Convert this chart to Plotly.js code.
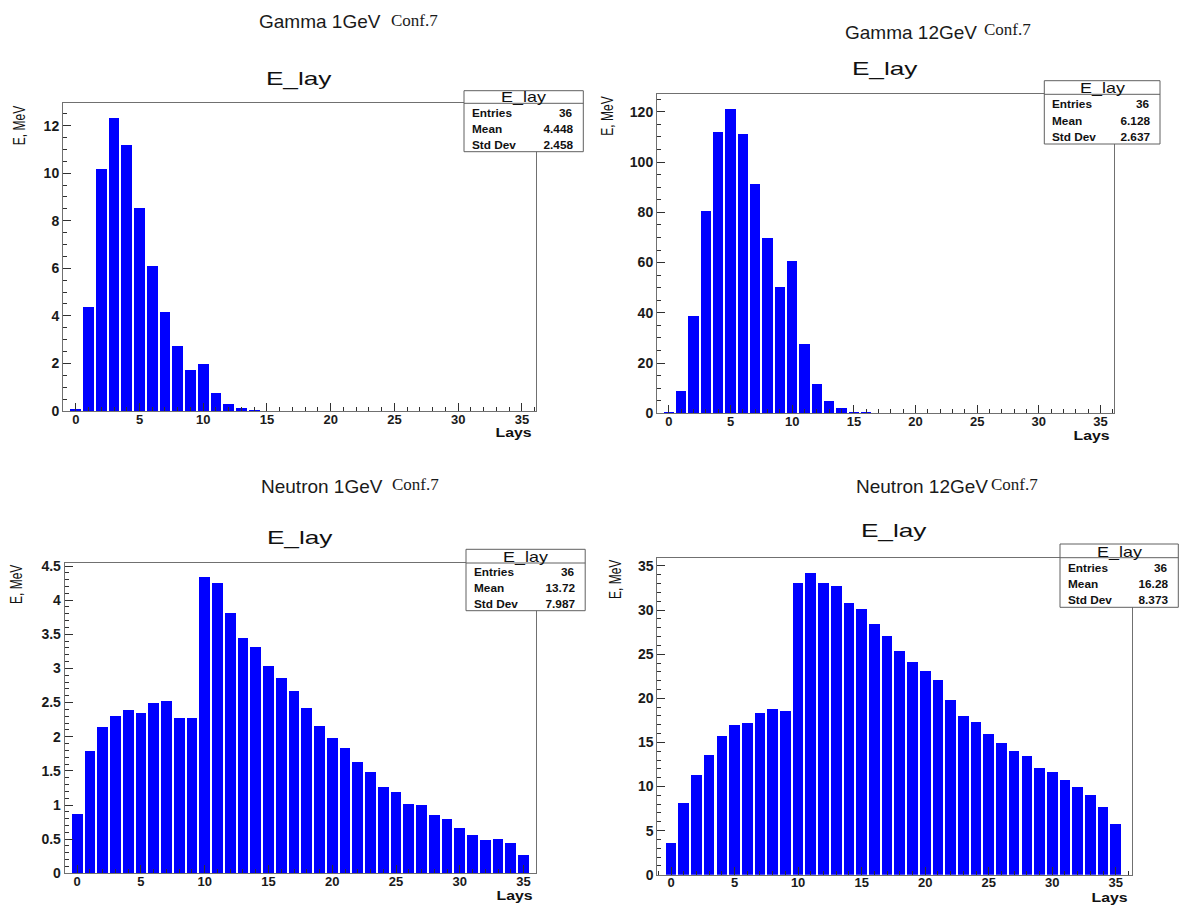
<!DOCTYPE html>
<html>
<head>
<meta charset="utf-8">
<script src="https://cdn.plot.ly/plotly-3.0.1.min.js"></script>
<style>
html,body{margin:0;padding:0;background:#fff;}
#chart{width:1180px;height:905px;}
</style>
</head>
<body>
<div id="chart"></div>
<script>
// ---------------- data ----------------
const layers = [0,1,2,3,4,5,6,7,8,9,10,11,12,13,14,15,16,17,18,19,20,21,22,23,24,25,26,27,28,29,30,31,32,33,34,35];

const gamma1GeV = [0.07,4.39,10.18,12.33,11.18,8.52,6.11,4.17,2.75,1.73,1.96,0.76,0.28,0.13,0.06,0.02,0,0,0,0,0,0,0,0,0,0,0,0,0,0,0,0,0,0,0,0];
const gamma12GeV = [0.4,9.0,38.8,80.4,111.8,121.2,111.1,91.2,69.6,50.1,60.7,27.4,11.6,4.8,2.1,0.7,0.4,0,0,0,0,0,0,0,0,0,0,0,0,0,0,0,0,0,0,0];
const neutron1GeV = [0.87,1.79,2.14,2.30,2.39,2.35,2.50,2.53,2.27,2.27,4.34,4.25,3.81,3.44,3.31,3.03,2.86,2.67,2.42,2.16,1.98,1.83,1.63,1.48,1.27,1.19,1.02,1.00,0.86,0.79,0.66,0.56,0.49,0.50,0.44,0.27];
const neutron12GeV = [3.55,8.15,11.35,13.62,15.77,17.01,17.20,18.33,18.82,18.60,33.12,34.25,33.12,32.70,30.86,30.14,28.37,27.01,25.31,24.10,23.12,22.07,19.77,17.96,17.31,15.99,14.94,14.07,13.47,12.11,11.66,10.71,10.00,9.05,7.73,5.73];

const panelNames = ["Gamma 1GeV", "Gamma 12GeV", "Neutron 1GeV", "Neutron 12GeV"];
const confLabel = "Conf.7";
const histName = "E_lay";
const statLabels = ["Entries", "Mean", "Std Dev"];
const statValues = [
  ["36", "4.448", "2.458"],
  ["36", "6.128", "2.637"],
  ["36", "13.72", "7.987"],
  ["36", "16.28", "8.373"]
];
const xTitle = "Lays";
const yTitle = "E, MeV";

const series = [gamma1GeV, gamma12GeV, neutron1GeV, neutron12GeV];

// ---------------- layout geometry (pixels) ----------------
const W = 1180, H = 905;
const px = v => v / W;
const py = v => 1 - v / H;

const P = [
  {frame:[63,103.3,536,411], xr:[-1.0,36.1], yr:[0,12.94], dt:2, mdt:0.5,
   sup:{x:258,y:21.7,cx:390,cy:20.7}, title:{x:299,y:79}, ytl:{x:20.7,y:125.5}, xtl:{x:533,y:433},
   box:[464,90.7,583.3,151.7], div:103.3, rows:[97,114,130,145.7]},
  {frame:[657,94,1114,413.3], xr:[-0.97,36.1], yr:[0,127.1], dt:20, mdt:5,
   sup:{x:844,y:32.3,cx:983,cy:29.3}, title:{x:884.7,y:69}, ytl:{x:607,y:116.7}, xtl:{x:1111.3,y:435.5},
   box:[1044.3,80.7,1160,144], div:94.3, rows:[88,104.3,121,137.3]},
  {frame:[64.7,563,536.3,873.3], xr:[-0.98,36.0], yr:[0,4.544], dt:0.5, mdt:0.1,
   sup:{x:260,y:486,cx:391,cy:485}, title:{x:300,y:538.3}, ytl:{x:17,y:585}, xtl:{x:533.7,y:895},
   box:[466,549.3,585.2,610.7], div:563, rows:[556.7,572.7,588.3,604]},
  {frame:[657.3,557.7,1131.7,874.7], xr:[-1.08,36.25], yr:[0,35.94], dt:5, mdt:1,
   sup:{x:855,y:486,cx:990,cy:485}, title:{x:894.3,y:531}, ytl:{x:616,y:580}, xtl:{x:1129,y:897},
   box:[1060,544,1178.3,607.3], div:557.7, rows:[551.7,568.3,584.3,600.3]}
];

const SANS = "Liberation Sans, Arial, Helvetica, sans-serif";
const SERIF = "Liberation Serif, Times New Roman, serif";
const xTickFont = {family:SANS, size:13, color:"#1a1a1a", weight:"bold"};
const yTickFont = {family:SANS, size:14, color:"#1a1a1a", weight:"bold"};

const traces = [];
const layout = {
  width: W, height: H,
  margin: {l:0, r:0, t:0, b:0},
  paper_bgcolor: "#ffffff",
  plot_bgcolor: "#ffffff",
  showlegend: false,
  bargap: 0,
  annotations: [],
  shapes: []
};

const cssRules = [];
function addText(a, stretch) {
  const base = {xref:"paper", yref:"paper", showarrow:false, borderpad:0};
  layout.annotations.push(Object.assign(base, a));
  if (stretch) {
    const idx = layout.annotations.length - 1;
    cssRules.push('.annotation[data-index="' + idx + '"] text{transform-box:fill-box;transform-origin:' +
      stretch.origin + ';transform:' + stretch.t + ';}');
  }
}

P.forEach((p, i) => {
  const n = i === 0 ? "" : String(i + 1);
  traces.push({
    type: "bar",
    x: layers,
    y: series[i],
    xaxis: "x" + n,
    yaxis: "y" + n,
    width: 0.84,
    marker: {color: "#0000ff", line: {width: 0}},
    hoverinfo: "skip"
  });
  const [L, T, R, B] = p.frame;
  layout["xaxis" + n] = {
    domain: [px(L), px(R)], range: p.xr, anchor: "y" + n,
    showline: true, mirror: true, linecolor: "#707070", linewidth: 1,
    ticks: "inside", ticklen: 8, tickwidth: 1, tickcolor: "#303030",
    tick0: 0, dtick: 5, ticklabelstandoff: -4,
    minor: {ticks: "inside", tick0: 0, dtick: 1, ticklen: 4, tickcolor: "#303030", tickwidth: 1},
    showgrid: false, zeroline: false, tickfont: xTickFont, fixedrange: true
  };
  layout["yaxis" + n] = {
    domain: [py(B), py(T)], range: p.yr, anchor: "x" + n,
    showline: true, mirror: true, linecolor: "#707070", linewidth: 1,
    ticks: "inside", ticklen: 8, tickwidth: 1, tickcolor: "#303030",
    tick0: 0, dtick: p.dt,
    minor: {ticks: "inside", tick0: 0, dtick: p.mdt, ticklen: 4, tickcolor: "#303030", tickwidth: 1},
    showgrid: false, zeroline: false, tickfont: yTickFont, fixedrange: true
  };

  // super title
  addText({x: px(p.sup.x), y: py(p.sup.y), xanchor: "left", yanchor: "middle",
    text: panelNames[i], font: {family: SANS, size: 19, color: "#1a1a1a"}});
  addText({x: px(p.sup.cx), y: py(p.sup.cy), xanchor: "left", yanchor: "middle",
    text: confLabel, font: {family: SERIF, size: 17, color: "#1a1a1a"}});

  // histogram title
  addText({x: px(p.title.x), y: py(p.title.y), xanchor: "center", yanchor: "middle",
    text: histName, font: {family: SANS, size: 19, color: "#111111"}},
    {origin: "50% 50%", t: "scaleX(1.38)"});

  // axis titles
  addText({x: px(p.ytl.x), y: py(p.ytl.y), xanchor: "center", yanchor: "middle", textangle: -90,
    text: yTitle, font: {family: SANS, size: 12, color: "#111111"}},
    {origin: "50% 50%", t: "scaleY(1.3)"});
  addText({x: px(p.xtl.x), y: py(p.xtl.y), xanchor: "right", yanchor: "middle",
    text: xTitle, font: {family: SANS, size: 13, color: "#111111", weight: "bold"}},
    {origin: "100% 50%", t: "scaleX(1.22)"});

  // stats box
  const [bl, bt, br, bb] = p.box;
  layout.shapes.push({type: "rect", xref: "paper", yref: "paper", layer: "above",
    x0: px(bl), x1: px(br), y0: py(bb), y1: py(bt),
    fillcolor: "#ffffff", line: {color: "#606060", width: 1}});
  layout.shapes.push({type: "line", xref: "paper", yref: "paper", layer: "above",
    x0: px(bl), x1: px(br), y0: py(p.div), y1: py(p.div),
    line: {color: "#606060", width: 1}});
  addText({x: px((bl + br) / 2), y: py(p.rows[0]), xanchor: "center", yanchor: "middle",
    text: histName, font: {family: SANS, size: 14, color: "#111111"}},
    {origin: "50% 50%", t: "scaleX(1.28)"});
  statLabels.forEach((lab, k) => {
    addText({x: px(bl + 7), y: py(p.rows[k + 1]), xanchor: "left", yanchor: "middle",
      text: lab, font: {family: SANS, size: 10, color: "#111111", weight: "bold"}},
      {origin: "0% 50%", t: "scaleX(1.18)"});
    addText({x: px(br - 9), y: py(p.rows[k + 1]), xanchor: "right", yanchor: "middle",
      text: statValues[i][k], font: {family: SANS, size: 10, color: "#111111", weight: "bold"}},
      {origin: "100% 50%", t: "scaleX(1.18)"});
  });
});

const st = document.createElement("style");
st.textContent = cssRules.join("\n");
document.head.appendChild(st);

Plotly.newPlot("chart", traces, layout, {staticPlot: true, displayModeBar: false});
</script>
</body>
</html>
